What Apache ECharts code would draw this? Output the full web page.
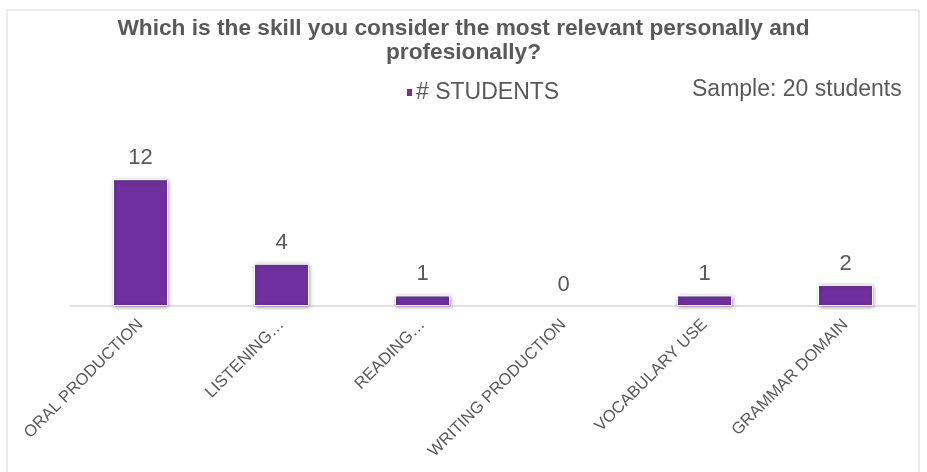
<!DOCTYPE html>
<html>
<head>
<meta charset="utf-8">
<script src="https://cdn.jsdelivr.net/npm/echarts@6/dist/echarts.min.js"></script>
<style>
html,body{margin:0;padding:0;background:#fff;}
#main{width:927px;height:472px;}
</style>
</head>
<body>
<div id="main"></div>
<script>
var categories = ['ORAL PRODUCTION', 'LISTENING…', 'READING…', 'WRITING PRODUCTION', 'VOCABULARY USE', 'GRAMMAR DOMAIN'];
var students = [12, 4, 1, 0, 1, 2];
var seriesName = '# STUDENTS';
var titleText = 'Which is the skill you consider the most relevant personally and\nprofesionally?';
var sampleText = 'Sample: 20 students';

var chart = echarts.init(document.getElementById('main'));
var barData = students.map(function (v) {
  if (v === 0) {
    return {value: v, itemStyle: {borderWidth: 0, shadowBlur: 0, shadowColor: 'rgba(0,0,0,0)'}};
  }
  return v;
});
chart.setOption({
  backgroundColor: '#fff',
  animation: false,
  title: {
    text: titleText,
    left: 'center',
    top: 12,
    textStyle: {
      fontFamily: 'Liberation Sans, Arial',
      fontSize: 22.7,
      fontWeight: 'bold',
      color: '#595959',
      lineHeight: 24
    }
  },
  legend: {
    data: [seriesName],
    left: 400,
    top: 76,
    icon: 'rect',
    itemWidth: 7,
    itemHeight: 9,
    itemGap: 4,
    textStyle: {fontFamily: 'Liberation Sans, Arial', fontSize: 23, color: '#595959', padding: [0,0,0,-2]}
  },
  graphic: [
    {type: 'rect', shape: {x: 7, y: 10, width: 912, height: 470}, style: {fill: 'none', stroke: '#d9d9d9', lineWidth: 1}, silent: true},
    {type: 'text', left: 692, top: 78, style: {text: sampleText, fontFamily: 'Liberation Sans, Arial', fontSize: 23, fill: '#595959'}}
  ],
  grid: {left: 70, right: 11, top: 158, bottom: 166, containLabel: false},
  xAxis: {
    type: 'category',
    data: categories,
    axisLine: {lineStyle: {color: '#d9d9d9', width: 1.5}},
    axisTick: {show: false},
    axisLabel: {
      rotate: 45,
      interval: 0,
      margin: 16,
      fontFamily: 'Liberation Sans, Arial',
      fontSize: 16.5,
      color: '#595959'
    }
  },
  yAxis: {
    type: 'value',
    min: 0,
    max: 14,
    show: false,
    splitLine: {show: false}
  },
  series: [{
    name: seriesName,
    type: 'bar',
    data: barData,
    barWidth: '39%',
    itemStyle: {
      color: '#7030A0',
      borderColor: '#ffffff',
      borderWidth: 1,
      shadowBlur: 4,
      shadowColor: 'rgba(0,0,0,0.35)',
      shadowOffsetX: 1,
      shadowOffsetY: 1
    },
    label: {
      show: true,
      position: 'top',
      distance: 10,
      fontFamily: 'Liberation Sans, Arial',
      fontSize: 22,
      color: '#595959'
    }
  }]
});
</script>
</body>
</html>
